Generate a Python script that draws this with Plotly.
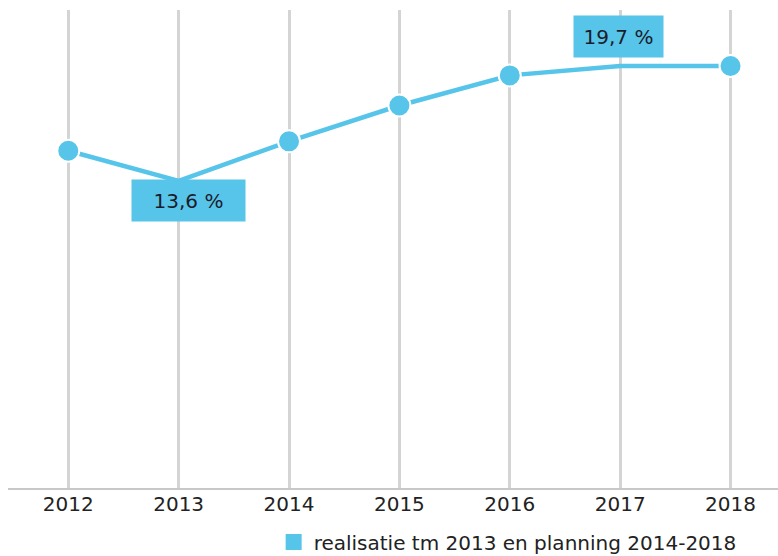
import plotly.graph_objects as go

years = [2012, 2013, 2014, 2015, 2016, 2017, 2018]
values = [15.2, 13.6, 15.7, 17.6, 19.2, 19.7, 19.7]
tick_labels = ["2012", "2013", "2014", "2015", "2016", "2017", "2018"]
show_marker = [True, False, True, True, True, False, True]
label_years = [2013, 2017]
label_values = [13.6, 19.7]
label_texts = ["13,6 %", "19,7 %"]
legend_name = "realisatie tm 2013 en planning 2014-2018"

BLUE = "#56c5e9"
FONT = "DejaVu Sans"

fig = go.Figure()
fig.add_trace(go.Scatter(
    x=years, y=values, mode="lines",
    line=dict(color=BLUE, width=4.5),
    showlegend=False, hoverinfo="skip",
))
mx = [x for x, s in zip(years, show_marker) if s]
my = [v for v, s in zip(values, show_marker) if s]
fig.add_trace(go.Scatter(
    x=mx, y=my, mode="markers",
    marker=dict(color=BLUE, size=22, line=dict(color="white", width=2)),
    showlegend=False,
))
fig.add_trace(go.Scatter(
    x=[None], y=[None], mode="markers", name=legend_name,
    marker=dict(color=BLUE, size=18, symbol="square"),
))

shifts = [(10, -19.5, 113), (-2, 29.5, 89)]
for (yr, v, t), (xs, ys, w) in zip(zip(label_years, label_values, label_texts), shifts):
    fig.add_annotation(
        x=yr, y=v, xref="x", yref="y", text=t, showarrow=False,
        xshift=xs, yshift=ys, width=w, height=41, borderpad=0,
        bgcolor=BLUE, font=dict(family=FONT, size=20, color="#1c1c2c"),
        align="center", valign="middle",
    )

fig.update_layout(
    width=778, height=556,
    margin=dict(l=8, r=0, t=10, b=68, autoexpand=False),
    paper_bgcolor="white", plot_bgcolor="white",
    font=dict(family=FONT, size=20, color="#222222"),
    xaxis=dict(
        range=[2011.454, 2018.43], tickvals=years, ticktext=tick_labels,
        showgrid=True, gridcolor="#d4d4d4", gridwidth=2.5,
        showline=True, linecolor="#c8c8c8", linewidth=2,
        zeroline=False, ticks="", fixedrange=True, ticklabelstandoff=-3,
        automargin=False,
        tickfont=dict(family=FONT, size=20, color="#222222"),
    ),
    yaxis=dict(
        range=[-2.7, 22.67], showgrid=False, zeroline=False,
        showticklabels=False, showline=False, fixedrange=True,
        automargin=False,
    ),
    legend=dict(
        orientation="h", x=0.345, xanchor="left", y=-0.072, yanchor="top",
        font=dict(family=FONT, size=20, color="#222222"),
        bgcolor="rgba(0,0,0,0)",
    ),
    showlegend=True,
)

fig.write_html("out.html")
